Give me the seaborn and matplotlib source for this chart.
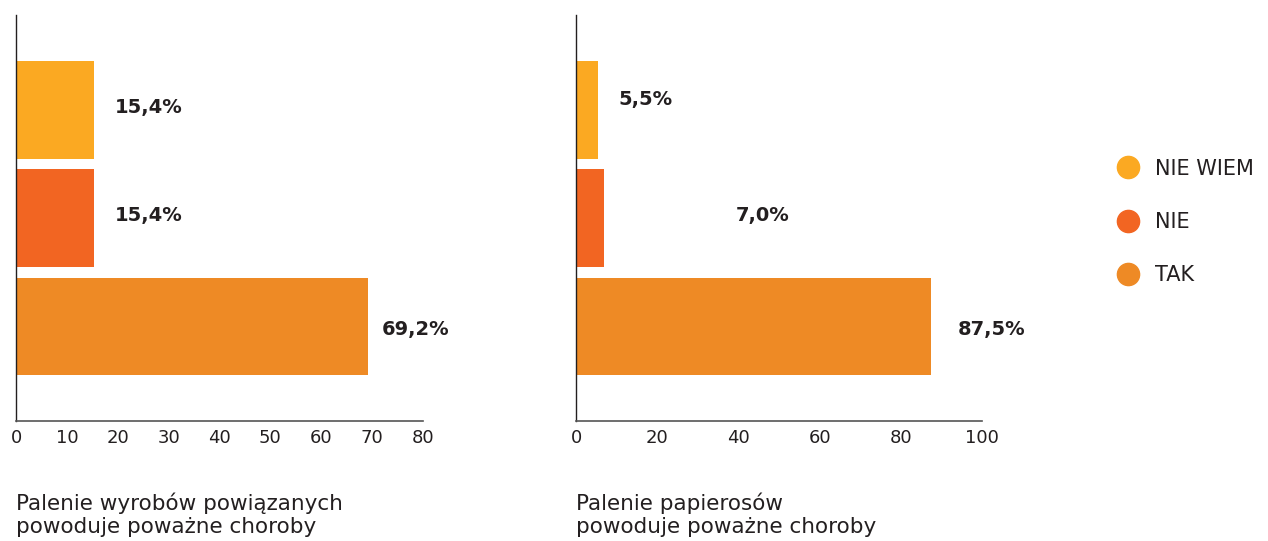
import matplotlib
matplotlib.use("Agg")
import matplotlib.pyplot as plt
from matplotlib.lines import Line2D
import seaborn as sns
import pandas as pd

categories = ["NIE WIEM", "NIE", "TAK"]
left_values = [15.4, 15.4, 69.2]
right_values = [5.5, 7.0, 87.5]
left_labels = ["15,4%", "15,4%", "69,2%"]
right_labels = ["5,5%", "7,0%", "87,5%"]
left_title = "Palenie wyrobów powiązanych\npowoduje poważne choroby"
right_title = "Palenie papierosów\npowoduje poważne choroby"
left_ticks = [0, 10, 20, 30, 40, 50, 60, 70, 80]
right_ticks = [0, 20, 40, 60, 80, 100]

colors = {"NIE WIEM": "#FBA922", "NIE": "#F26522", "TAK": "#EE8A25"}
text_color = "#231F20"

sns.set_theme(style="white")
plt.rcParams["font.family"] = ["DejaVu Sans"]

fig = plt.figure(figsize=(12.68, 5.41), dpi=100)
ax1 = fig.add_axes([16 / 1268, 120 / 541, 407 / 1268, 406 / 541])
ax2 = fig.add_axes([576 / 1268, 120 / 541, 406 / 1268, 406 / 541])

# label offsets (px): horizontal, vertical
panels = [
    (ax1, left_values, left_labels, left_title, left_ticks, 80, [20, 20, 14], [2, 3, -3]),
    (ax2, right_values, right_labels, right_title, right_ticks, 100, [20, 131, 26], [10, 3, -3]),
]

for ax, values, labels, title, ticks, xmax, pads, vpads in panels:
    df = pd.DataFrame({"kategoria": categories, "wartosc": values})
    sns.barplot(data=df, y="kategoria", x="wartosc", hue="kategoria",
                palette=colors, orient="h", width=0.9, saturation=1,
                linewidth=0, legend=False, ax=ax)
    ax.set_xlim(0, xmax)
    ax.set_ylim(2.87, -0.875)
    ax.set_xticks(ticks)
    ax.set_yticks([])
    ax.set_xlabel("")
    ax.set_ylabel("")
    for s in ["top", "right"]:
        ax.spines[s].set_visible(False)
    ax.spines["left"].set_color(text_color)
    ax.spines["left"].set_linewidth(1.0)
    ax.spines["bottom"].set_color("#555555")
    ax.spines["bottom"].set_linewidth(1.2)
    ax.tick_params(axis="x", direction="in", length=6, width=1, color="#555555",
                   labelsize=13, labelcolor=text_color, pad=6)
    for i, (v, lab, pad, vp) in enumerate(zip(values, labels, pads, vpads)):
        ax.annotate(lab, xy=(v, i), xytext=(pad * 0.72, vp * 0.72), textcoords="offset points",
                    ha="left", va="center", fontsize=14, fontweight="bold",
                    color=text_color)
    ax.text(0, -0.175, title, transform=ax.transAxes, ha="left", va="top",
            fontsize=15.5, color=text_color, linespacing=1.2)

handles = [Line2D([0], [0], marker="o", linestyle="", markersize=16,
                  markerfacecolor=colors[c], markeredgecolor=colors[c], label=c)
           for c in categories]
fig.legend(handles=handles, loc="center left", bbox_to_anchor=(1088 / 1268, 1 - 222 / 541),
           frameon=False, fontsize=15, labelspacing=1.6, handletextpad=0.3,
           labelcolor=text_color)

fig.savefig("out.png", dpi=100)
